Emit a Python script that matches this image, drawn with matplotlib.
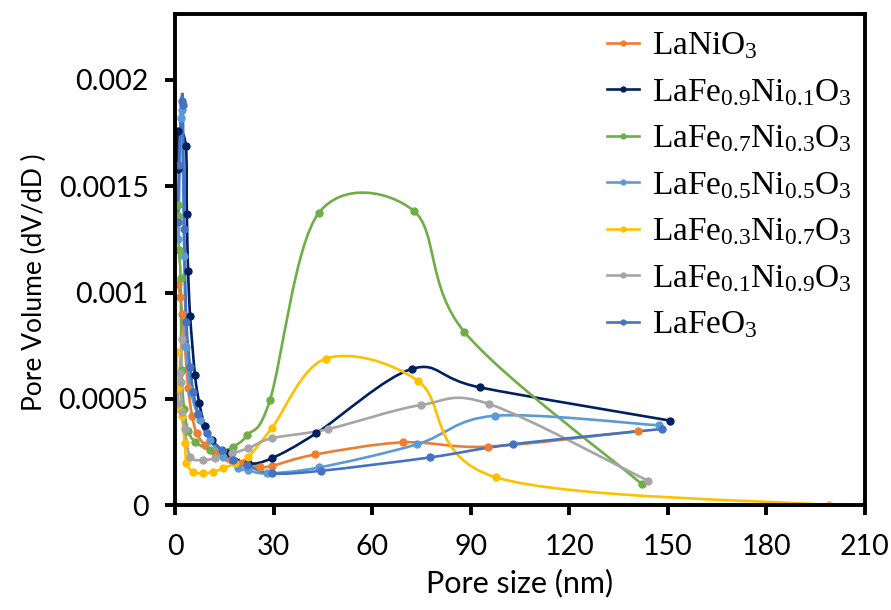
import numpy as np
import matplotlib.pyplot as plt
from matplotlib.path import Path
from matplotlib.patches import PathPatch
from matplotlib.lines import Line2D

plt.rcParams['font.family'] = ['Lato', 'DejaVu Sans']
plt.rcParams['mathtext.fontset'] = 'custom'
plt.rcParams['mathtext.rm'] = 'Liberation Serif'
plt.rcParams['mathtext.it'] = 'Liberation Serif:italic'

labels = ["LaNiO$_3$",
          "LaFe$_{0.9}$Ni$_{0.1}$O$_3$",
          "LaFe$_{0.7}$Ni$_{0.3}$O$_3$",
          "LaFe$_{0.5}$Ni$_{0.5}$O$_3$",
          "LaFe$_{0.3}$Ni$_{0.7}$O$_3$",
          "LaFe$_{0.1}$Ni$_{0.9}$O$_3$",
          "LaFeO$_3$"]
colors = ["#ED7D31", "#002060", "#70AD47", "#5B9BD5", "#FFC000", "#A5A5A5", "#4472C4"]

# pore size (nm) / pore volume (dV/dD)
x_lanio3 = [1.0, 1.6, 2.2, 3.0, 4.0, 5.2, 6.6, 9.1, 12.2, 16.2, 20.8, 25.8, 29.4, 42.7, 69.4, 95.2, 140.8]
y_lanio3 = [0.00104, 0.00098, 0.0009, 0.00075, 0.00055, 0.00042, 0.000337, 0.000282, 0.000243,
            0.00022, 0.000196, 0.00018, 0.000184, 0.000238, 0.000295, 0.000275, 0.000348]

x_fe09 = [0.8, 1.0, 3.3, 3.6, 4.0, 4.6, 6.1, 7.4, 9.1, 11.2, 15.7, 22.3, 29.4, 42.9, 72.2, 92.7, 150.8]
y_fe09 = [0.00158, 0.00176, 0.00169, 0.00137, 0.0011, 0.00089, 0.00061, 0.00048, 0.00037, 0.000306,
          0.000243, 0.000196, 0.00022, 0.000337, 0.000641, 0.000554, 0.000397]

x_fe07 = [0.8, 1.0, 1.2, 1.7, 2.0, 2.8, 4.0, 6.1, 10.6, 14.2, 17.7, 22.0, 28.9, 43.7, 72.6, 88.1, 142.2]
y_fe07 = [0.00136, 0.00141, 0.0012, 0.00107, 0.000635, 0.00045, 0.00035, 0.000298, 0.000259,
          0.000254, 0.000274, 0.000329, 0.000494, 0.001373, 0.001385, 0.000814, 0.0000974]

x_fe05 = [1.0, 1.8, 2.2, 2.8, 3.5, 5.0, 7.6, 10.6, 14.7, 19.2, 22.3, 27.9, 43.9, 73.7, 97.3, 147.4]
y_fe05 = [0.00125, 0.00182, 0.00186, 0.00117, 0.000745, 0.000526, 0.0004, 0.000306, 0.000227,
          0.000173, 0.000165, 0.000149, 0.000177, 0.000286, 0.00042, 0.000375]

x_fe03 = [0.5, 0.8, 1.2, 2.0, 3.0, 3.5, 5.6, 8.6, 11.6, 14.7, 18.2, 22.3, 29.4, 45.9, 73.9, 97.8, 199.2]
y_fe03 = [0.00072, 0.00055, 0.00045, 0.00042, 0.00029, 0.000196, 0.000157, 0.000149, 0.000157,
          0.000173, 0.000196, 0.000227, 0.000361, 0.000689, 0.000585, 0.00013, 0.0]

x_fe01 = [0.8, 1.5, 2.0, 1.8, 2.2, 3.0, 4.6, 8.6, 12.2, 17.2, 22.3, 29.4, 46.7, 74.9, 95.7, 144.1]
y_fe01 = [0.00048, 0.00062, 0.00078, 0.00058, 0.00044, 0.00036, 0.000227, 0.000212, 0.00022,
          0.000243, 0.000267, 0.000314, 0.000358, 0.000471, 0.000475, 0.000113]

x_lafeo3 = [0.8, 1.2, 2.0, 2.4, 2.8, 3.5, 4.6, 5.6, 7.1, 9.6, 14.2, 17.7, 21.8, 29.4, 44.3, 77.5, 102.8, 148.2]
y_lafeo3 = [0.00133, 0.0016, 0.0019, 0.00188, 0.0013, 0.00086, 0.00065, 0.00053, 0.00043, 0.000337,
            0.000259, 0.000212, 0.000188, 0.000149, 0.000161, 0.000224, 0.000286, 0.000358]

series = [(x_lanio3, y_lanio3), (x_fe09, y_fe09), (x_fe07, y_fe07), (x_fe05, y_fe05),
          (x_fe03, y_fe03), (x_fe01, y_fe01), (x_lafeo3, y_lafeo3)]


def smooth_path(x, y):
    # excel-like smoothed line: cubic bezier, control points from neighbours
    p = np.column_stack([x, y])
    n = len(p)
    verts = [p[0]]
    codes = [Path.MOVETO]
    for i in range(n - 1):
        p0 = p[i - 1] if i > 0 else p[i]
        p3 = p[i + 2] if i + 2 < n else p[i + 1]
        c1 = p[i] + (p[i + 1] - p0) / 6
        c2 = p[i + 1] - (p3 - p[i]) / 6
        verts += [c1, c2, p[i + 1]]
        codes += [Path.CURVE4] * 3
    return Path(verts, codes)


fig = plt.figure(figsize=(8.91, 6.1), dpi=100)
ax = fig.add_axes([0.1964, 0.172, 0.7744, 0.805])

handles = []
for (x, y), c, lab in zip(series, colors, labels):
    ax.add_patch(PathPatch(smooth_path(x, y), facecolor='none', edgecolor=c, lw=1.9))
    ax.plot(x, y, 'o', color=c, ms=5, mec=c, ls='none')
    handles.append(Line2D([], [], color=c, lw=1.9, marker='o', ms=3.5))

ax.set_xlim(0, 210)
ax.set_ylim(0, 0.00231)
ax.set_xticks(range(0, 211, 30))
ax.set_yticks([0, 0.0005, 0.001, 0.0015, 0.002])
ax.set_yticklabels(["0", "0.0005", "0.001", "0.0015", "0.002"])

for s in ax.spines.values():
    s.set_linewidth(2.8)
ax.tick_params(axis='both', direction='out', length=7, width=2.8, labelsize=20.5)
ax.tick_params(axis='x', pad=14)
ax.tick_params(axis='y', pad=12)

ax.set_xlabel("Pore size (nm)", fontsize=22, labelpad=6)
ax.set_ylabel("Pore Volume (dV/dD )", fontsize=19)
ax.yaxis.set_label_coords(-0.185, 0.454)

ax.legend(handles, labels, loc='upper left', bbox_to_anchor=(0.626, 0.966), frameon=False,
          prop={'family': 'Liberation Serif', 'size': 24}, handlelength=0.95, handletextpad=0.4,
          labelspacing=0.47, borderpad=0, borderaxespad=0)

fig.savefig("out.png", dpi=100)
